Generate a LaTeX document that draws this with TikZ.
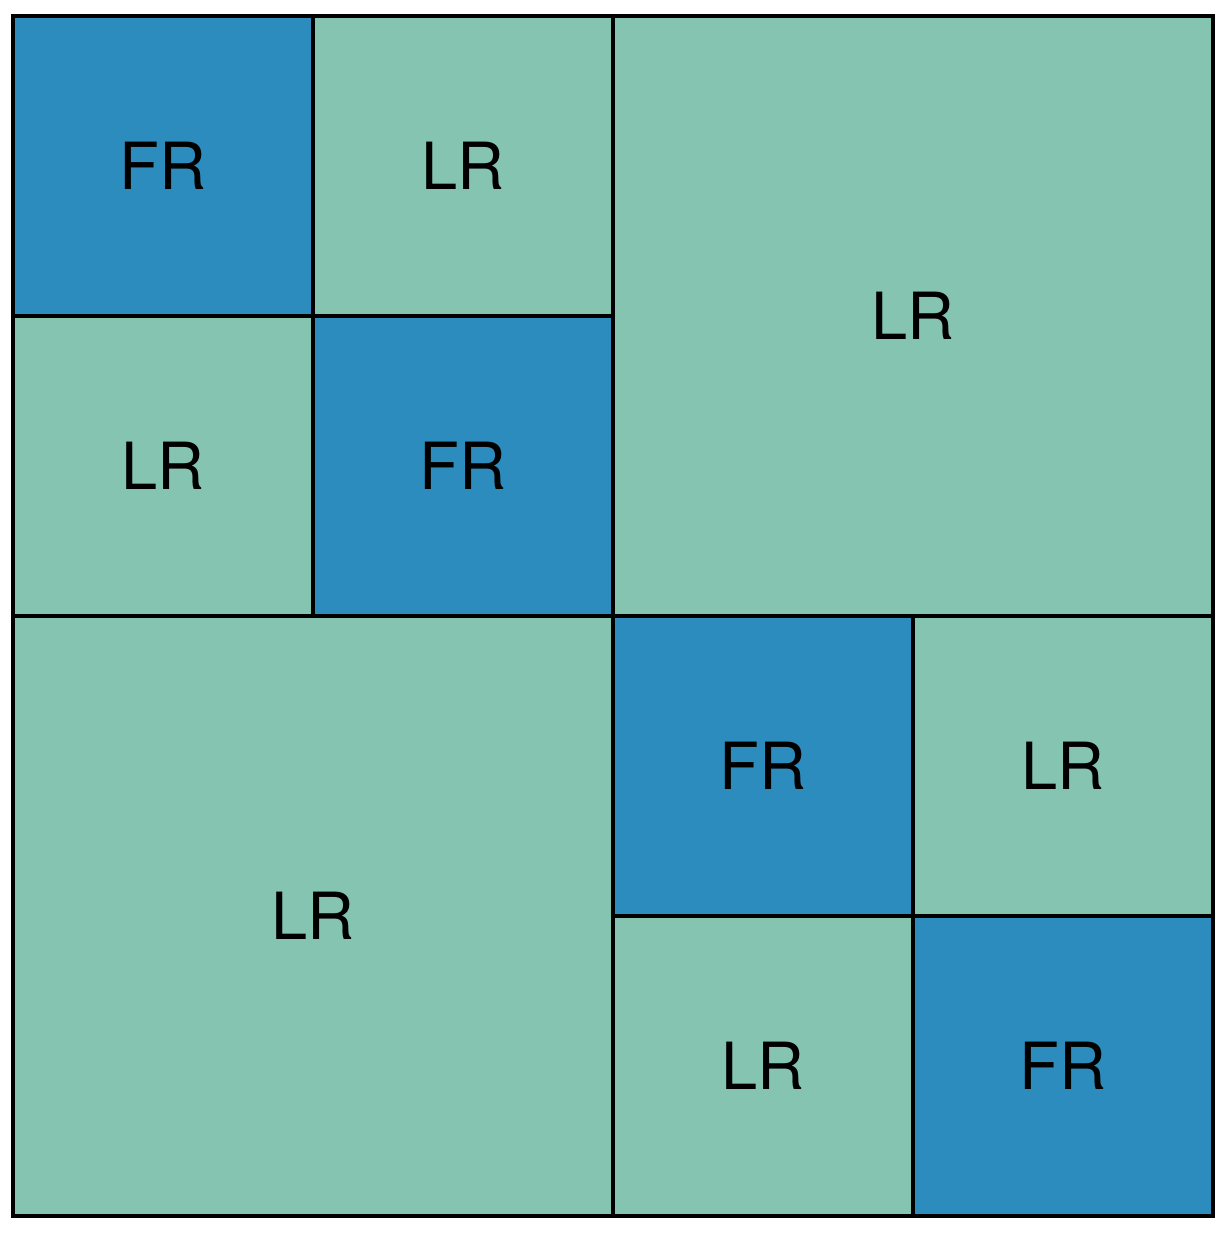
\documentclass[tikz,border=0pt]{standalone}
\usepackage{fontspec}
\setmainfont{TeX Gyre Heros}
\usepackage{xcolor}
\usepackage{tikz}
\definecolor{frblue}{HTML}{2C8CBE}
\definecolor{lrgreen}{HTML}{84C4B0}

\begin{document}
\begin{tikzpicture}[
  x=3cm,y=3cm,
  cell/.style={draw=black,line width=0.9pt,inner sep=0pt,outer sep=0pt,minimum size=3cm,anchor=south west,font=\fontsize{18.5}{18.5}\selectfont},
  full/.style={cell,fill=frblue},
  lowrank/.style={cell,fill=lrgreen},
  bigcell/.style={lowrank,minimum size=6cm}
]
\useasboundingbox (-0.0433,-0.0567) rectangle (4.0567,4.0533);
% top-left quadrant
\node[full] (fr1) at (0,3) {FR};
\node[lowrank] (lr12) at (1,3) {LR};
\node[lowrank] (lr21) at (0,2) {LR};
\node[full] (fr2) at (1,2) {FR};
% off-diagonal blocks
\node[bigcell] (lrtop) at (2,2) {LR};
\node[bigcell] (lrbot) at (0,0) {LR};
% bottom-right quadrant
\node[full] (fr3) at (2,1) {FR};
\node[lowrank] (lr34) at (3,1) {LR};
\node[lowrank] (lr43) at (2,0) {LR};
\node[full] (fr4) at (3,0) {FR};
\end{tikzpicture}
\end{document}
